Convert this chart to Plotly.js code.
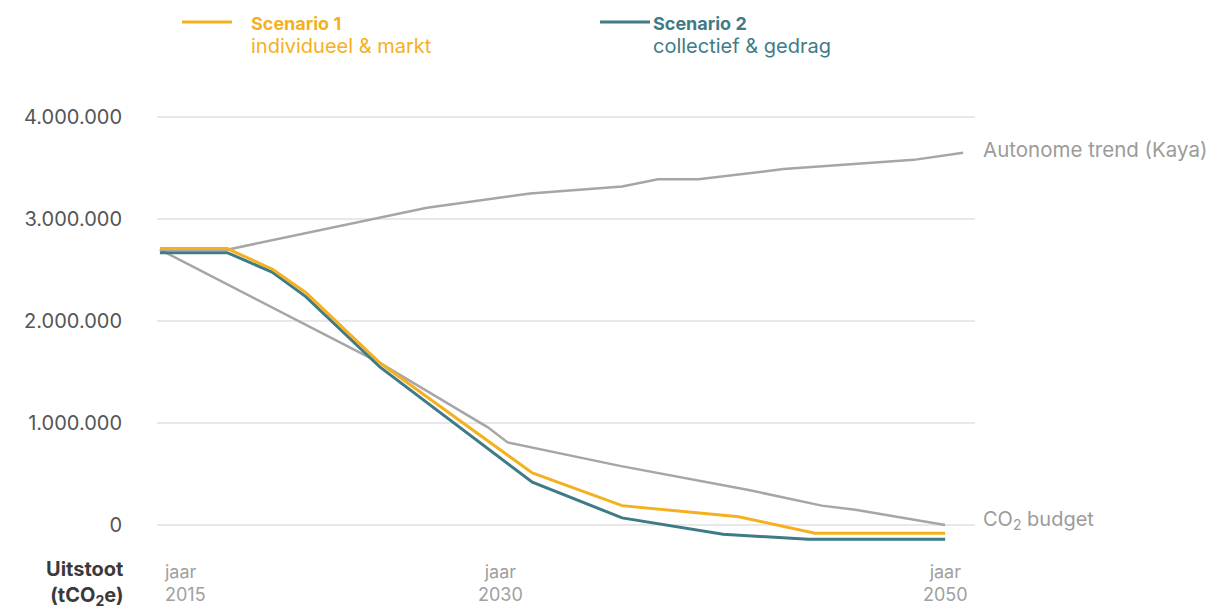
<!DOCTYPE html>
<html>
<head>
<meta charset="utf-8">
<script src="https://cdn.plot.ly/plotly-3.0.1.min.js"></script>
<style>
  html, body { margin: 0; padding: 0; background: #ffffff; }
  #chart { width: 1212px; height: 608px; }
</style>
</head>
<body>
<div id="chart"></div>
<script>
// ---- Data ----
const scenario1Years  = [2015, 2018, 2020, 2021.5, 2024.8, 2031.6, 2035.6, 2040.8, 2044.2, 2050];
const scenario1Values = [2710000, 2710000, 2510000, 2280000, 1590000, 510000, 190000, 80000, -80000, -80000];

const scenario2Years  = [2015, 2018, 2020, 2021.5, 2024.8, 2031.6, 2035.6, 2040.1, 2043.9, 2050];
const scenario2Values = [2670000, 2670000, 2480000, 2240000, 1550000, 420000, 70000, -90000, -140000, -140000];

const kayaYears  = [2015, 2018, 2026.9, 2031.5, 2035.6, 2037.2, 2039.0, 2042.8, 2048.6, 2050.8];
const kayaValues = [2700000, 2700000, 3110000, 3250000, 3320000, 3390000, 3390000, 3490000, 3580000, 3650000];

const budgetYears  = [2015, 2024.8, 2029.6, 2030.5, 2035.5, 2041.3, 2044.5, 2046.0, 2050];
const budgetValues = [2700000, 1590000, 960000, 810000, 580000, 340000, 190000, 150000, 0];

const yTickValues = [0, 1000000, 2000000, 3000000, 4000000];
const xTickYears  = [2015, 2030, 2050];

const seriesNames = {
  s1: 'Scenario 1', s1Sub: 'individueel & markt',
  s2: 'Scenario 2', s2Sub: 'collectief & gedrag',
  kaya: 'Autonome trend (Kaya)', budget: 'CO<sub>2</sub> budget'
};

// ---- Styling ----
const YELLOW = '#F5B01E';
const TEAL   = '#3F7B86';
const GREY   = '#A6A6A8';
const FONT   = 'Inter, "Noto Sans", "DejaVu Sans", sans-serif';

const traces = [
  { x: kayaYears, y: kayaValues, name: seriesNames.kaya, mode: 'lines',
    line: { color: GREY, width: 2.5 }, showlegend: false, hoverinfo: 'x+y' },
  { x: budgetYears, y: budgetValues, name: 'CO2 budget', mode: 'lines',
    line: { color: GREY, width: 2.5 }, showlegend: false, hoverinfo: 'x+y' },
  { x: scenario2Years, y: scenario2Values, name: seriesNames.s2, mode: 'lines',
    line: { color: TEAL, width: 3 }, showlegend: false },
  { x: scenario1Years, y: scenario1Values, name: seriesNames.s1, mode: 'lines',
    line: { color: YELLOW, width: 3 }, showlegend: false }
];

const annotations = [
  // legend texts
  { xref: 'paper', yref: 'paper', x: 0.1125, y: 1.1444, xanchor: 'left', yanchor: 'middle', align: 'left',
    showarrow: false,
    text: '<b>' + seriesNames.s1 + '</b><br><span style="font-size:20px">' + seriesNames.s1Sub + '</span>',
    font: { family: FONT, size: 18, color: YELLOW } },
  { xref: 'paper', yref: 'paper', x: 0.6045, y: 1.1444, xanchor: 'left', yanchor: 'middle', align: 'left',
    showarrow: false,
    text: '<b>' + seriesNames.s2 + '</b><br><span style="font-size:20px">' + seriesNames.s2Sub + '</span>',
    font: { family: FONT, size: 18, color: TEAL } },
  // right-hand line labels
  { xref: 'paper', yref: 'y', x: 1, y: 3680000, xanchor: 'left', yanchor: 'middle', xshift: 6,
    showarrow: false, text: seriesNames.kaya, font: { family: FONT, size: 20.5, color: '#9B9B9B' } },
  { xref: 'paper', yref: 'y', x: 1, y: 50000, xanchor: 'left', yanchor: 'middle', xshift: 6,
    showarrow: false, text: seriesNames.budget, font: { family: FONT, size: 20, color: '#9B9B9B' } },
  // y-axis unit label
  { xref: 'paper', yref: 'paper', x: -0.0391, y: -0.0733, xanchor: 'right', yanchor: 'middle', align: 'right',
    showarrow: false, text: '<b>Uitstoot</b><br><b>(tCO<sub>2</sub>e)</b>',
    font: { family: FONT, size: 20, color: '#3A3A3A' } }
];

// x tick labels ("jaar" + year)
xTickYears.forEach(function (yr, i) {
  annotations.push({
    xref: 'x', yref: 'paper', x: yr, y: -0.0733,
    xanchor: i === 0 ? 'left' : 'center', yanchor: 'middle', align: i === 0 ? 'left' : 'center',
    xshift: i === 0 ? 2 : (i === 1 ? 4 : 0),
    showarrow: false, text: 'jaar<br>' + yr,
    font: { family: FONT, size: 18, color: '#A0A0A0' }
  });
});

const shapes = [
  { type: 'line', xref: 'paper', yref: 'paper', x0: 0.0306, x1: 0.0917, y0: 1.1733, y1: 1.1733,
    line: { color: YELLOW, width: 3 } },
  { type: 'line', xref: 'paper', yref: 'paper', x0: 0.5416, x1: 0.6027, y0: 1.1733, y1: 1.1733,
    line: { color: TEAL, width: 3 } }
];

const layout = {
  width: 1212, height: 608,
  margin: { l: 157, r: 237, t: 100, b: 58 },
  paper_bgcolor: '#ffffff', plot_bgcolor: '#ffffff',
  separators: ',.',
  showlegend: false,
  font: { family: FONT, size: 18, color: '#555555' },
  xaxis: {
    range: [2014.87, 2051.33],
    showgrid: false, zeroline: false, showline: false,
    showticklabels: false, ticks: '', fixedrange: true
  },
  yaxis: {
    range: [-245000, 4167000],
    tickvals: yTickValues, tickformat: ',d',
    showgrid: true, gridcolor: '#E8E8E8', gridwidth: 1.2,
    zeroline: false, showline: false,
    ticks: 'outside', ticklen: 30, tickcolor: 'rgba(0,0,0,0)',
    tickfont: { family: FONT, size: 20, color: '#555555' },
    fixedrange: true
  },
  annotations: annotations,
  shapes: shapes
};

Plotly.newPlot('chart', traces, layout, { displayModeBar: false, staticPlot: true });
</script>
</body>
</html>
